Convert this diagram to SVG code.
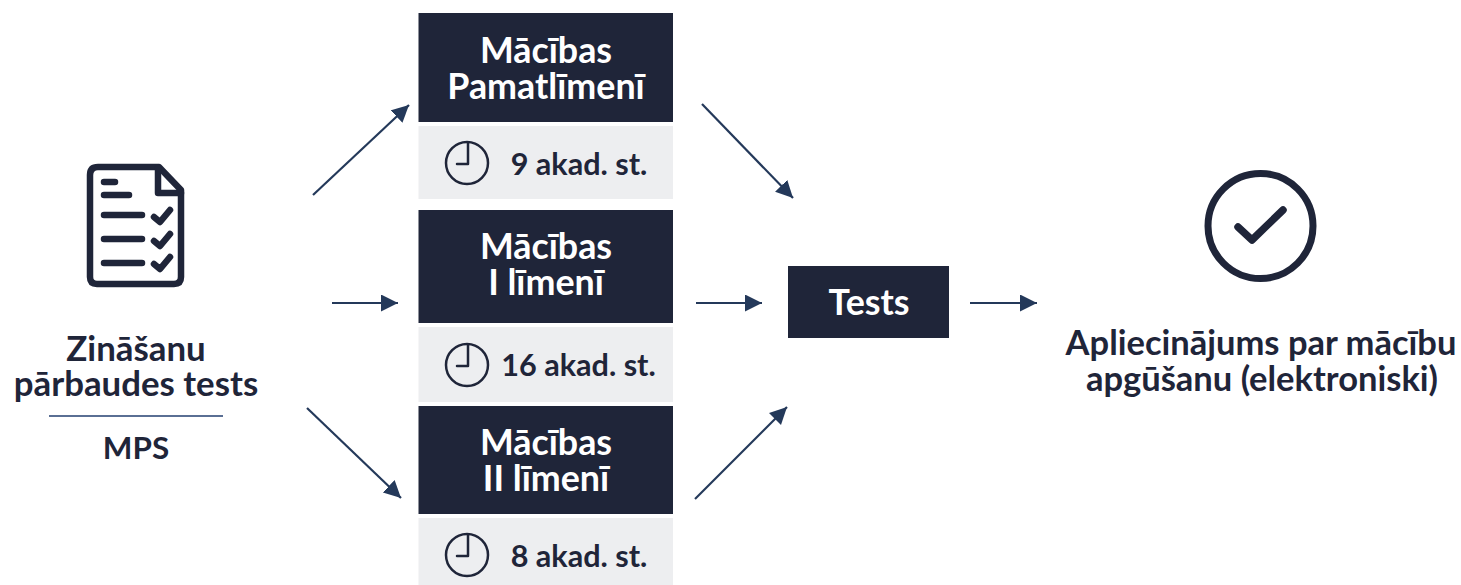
<svg xmlns="http://www.w3.org/2000/svg" width="1461" height="585" viewBox="0 0 1461 585">
<style>
text{font-family:Lato,"Noto Sans",sans-serif;text-anchor:middle;font-weight:700}
.d{fill:#1f2539}
.g{fill:#edeef0}
.w{fill:#fff;font-size:35.8px}
.t{fill:#1f2539;font-size:30.6px}
.m{fill:#1f2539;font-size:31.4px}
.l{fill:#1f2539;font-size:34.8px}
.a{fill:#1f2539;font-size:34.5px}
.i{fill:none;stroke:#1f2539;stroke-linecap:round;stroke-linejoin:round}
.c{stroke:#24395a;stroke-width:2.2;fill:none;marker-end:url(#a)}
</style>
<defs><marker id="a" markerUnits="userSpaceOnUse" markerWidth="20" markerHeight="20" refX="17" refY="8.500" orient="auto"><path d="M0 0L17 8.500L0 17z" fill="#24395a"/></marker></defs>
<rect width="1461" height="585" fill="#fff"/>
<g id="connectors">
<path class="c" d="M313 195L409 105"/>
<path class="c" d="M332 303L398 303"/>
<path class="c" d="M307 408L401 498"/>
<path class="c" d="M702 104L793 198"/>
<path class="c" d="M696 303L762 303"/>
<path class="c" d="M695 499L787 407"/>
<path class="c" d="M970 303L1037 303"/>
</g>
<g id="start">
<path class="i" stroke-width="6.500" d="M98 167H159L181 190V277Q181 284 174 284H97Q90 284 90 277V175Q90 167 98 167Z"/>
<path class="i" stroke-width="6.500" d="M158 168V193H181"/>
<path class="i" stroke-width="6.500" d="M104 182H115M104 195H129M104 215H142M104 239H142M104 263H142"/>
<path class="i" stroke-width="6.500" d="M154 217L160 222L170 210M154 241L160 246L170 234M154 264L160 269L170 257"/>
<text class="l" x="136" y="361">Zināšanu</text>
<text class="l" x="136" y="396">pārbaudes tests</text>
<line x1="49" y1="416" x2="223" y2="416" stroke="#5a6f94" stroke-width="2"/>
<text class="m" x="136" y="459">MPS</text>
</g>
<g id="level-0">
<rect class="d" x="418.500" y="13" width="254.500" height="109"/>
<rect class="g" x="418.500" y="126" width="254.500" height="73"/>
<text class="w" x="546" y="63">Mācības</text>
<text class="w" x="546" y="99">Pamatlīmenī</text>
<circle class="i" stroke-width="2.500" cx="467" cy="163" r="21"/>
<path class="i" stroke-width="2.500" d="M468 143V164H457"/>
<text class="t" x="579" y="175">9 akad. st.</text>
</g>
<g id="level-1">
<rect class="d" x="418.500" y="210" width="254.500" height="113"/>
<rect class="g" x="418.500" y="327" width="254.500" height="75"/>
<text class="w" x="546" y="259">Mācības</text>
<text class="w" x="546" y="295">I līmenī</text>
<circle class="i" stroke-width="2.500" cx="467" cy="365" r="21"/>
<path class="i" stroke-width="2.500" d="M468 345V366H457"/>
<text class="t" x="578.500" y="376">16 akad. st.</text>
</g>
<g id="level-2">
<rect class="d" x="418.500" y="406" width="254.500" height="108"/>
<rect class="g" x="418.500" y="518" width="254.500" height="67"/>
<text class="w" x="546" y="455">Mācības</text>
<text class="w" x="546" y="491">II līmenī</text>
<circle class="i" stroke-width="2.500" cx="467" cy="555" r="21"/>
<path class="i" stroke-width="2.500" d="M468 535V556H457"/>
<text class="t" x="579" y="567">8 akad. st.</text>
</g>
<g id="tests">
<rect class="d" x="788" y="266" width="161" height="72"/>
<text class="w" x="869" y="315">Tests</text>
</g>
<g id="result">
<circle class="i" stroke-width="7" cx="1260.500" cy="226" r="52.500"/>
<path class="i" stroke-width="7.500" d="M1238 227L1252 240L1283 210"/>
<text class="a" x="1261" y="355">Apliecinājums par mācību</text>
<text class="a" x="1262" y="391">apgūšanu (elektroniski)</text>
</g>
</svg>
